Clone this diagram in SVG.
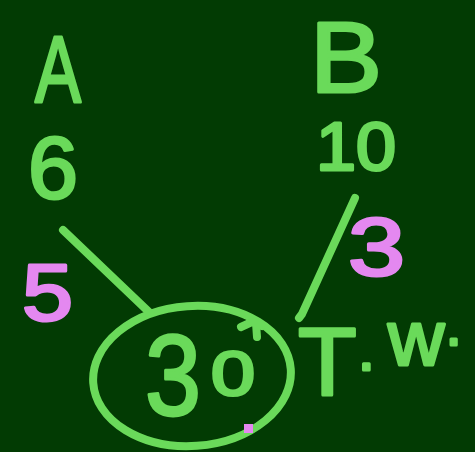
<svg xmlns="http://www.w3.org/2000/svg" width="475" height="452" viewBox="0 0 475 452">
<style>
.g{fill:#6ada5a;stroke:#6ada5a;stroke-width:3;stroke-linejoin:round;font-family:"Liberation Sans",Arial,sans-serif}
.p{fill:#e488f0;stroke:#e488f0;stroke-width:3;stroke-linejoin:round;font-family:"Liberation Sans",Arial,sans-serif}
.ln{fill:none;stroke:#6ada5a;stroke-width:8;stroke-linecap:round;stroke-linejoin:round}
</style>
<rect width="475" height="452" fill="#023b03"/>
<g id="nodeA">
<text class="g" x="35" y="102" font-size="95" textLength="46" lengthAdjust="spacingAndGlyphs">A</text>
<text class="g" x="28" y="198" font-size="88" textLength="50" lengthAdjust="spacingAndGlyphs">6</text>
<text class="p" x="22" y="320" font-size="80" textLength="51" lengthAdjust="spacingAndGlyphs">5</text>
</g>
<g id="nodeB">
<text class="g" x="310" y="92" font-size="100" textLength="72" lengthAdjust="spacingAndGlyphs">B</text>
<text class="g" x="316" y="170" font-size="68" textLength="80" lengthAdjust="spacingAndGlyphs">10</text>
<text class="p" x="348" y="275" font-size="82" textLength="57" lengthAdjust="spacingAndGlyphs">3</text>
</g>
<g id="nodeTW">
<ellipse class="ln" cx="192" cy="376" rx="99" ry="70" transform="rotate(-4 192 376)"/>
<text class="g" x="145" y="415" font-size="115" textLength="56" lengthAdjust="spacingAndGlyphs">3</text>
<text class="g" x="211" y="395" font-size="63" textLength="44" lengthAdjust="spacingAndGlyphs">0</text>
<path class="ln" d="M241 327 L254 321 L262 326 M256 323 L257 337" stroke-width="6"/>
<text class="g"><tspan x="298" y="395" font-size="96">T</tspan><tspan x="358" y="370" font-size="60">.</tspan><tspan x="388" y="365" font-size="78">w</tspan><tspan x="446" y="345" font-size="55">.</tspan></text>
<rect x="244" y="424" width="9" height="9" fill="#e488f0"/>
</g>
<g id="connectors">
<path class="ln" d="M63 230 Q110 275 150 313"/>
<path class="ln" d="M355 198 L302 314 L299 318"/>
</g>
</svg>
